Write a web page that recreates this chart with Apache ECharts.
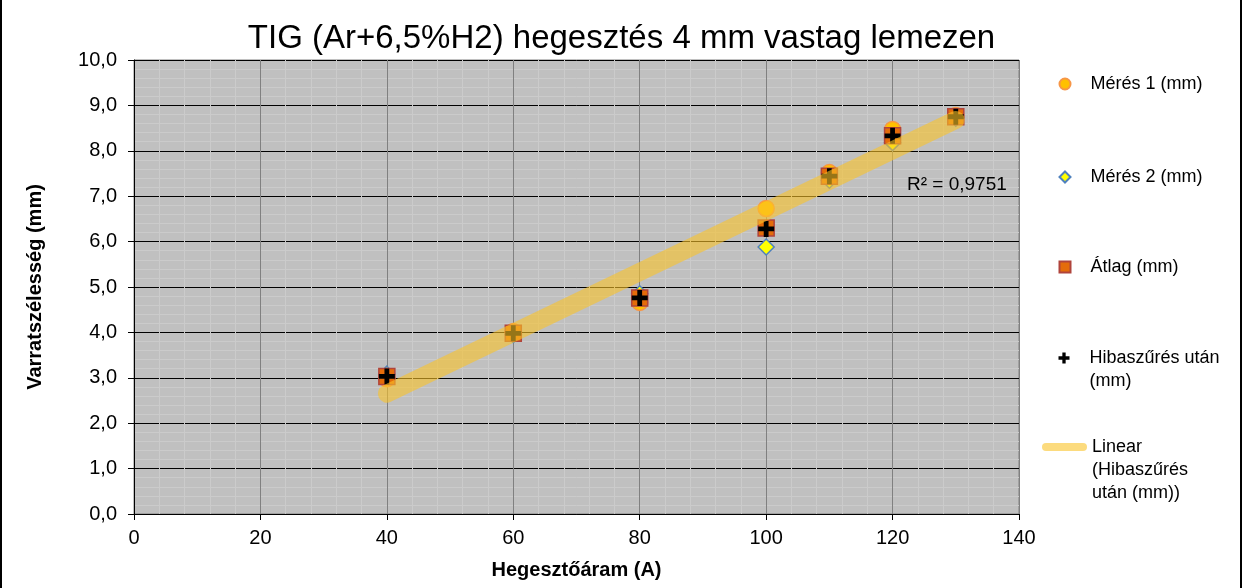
<!DOCTYPE html>
<html>
<head>
<meta charset="utf-8">
<script src="https://cdn.jsdelivr.net/npm/echarts@6/dist/echarts.min.js"></script>
<style>
  html, body { margin: 0; padding: 0; background: #fff; }
  #chart { width: 1243px; height: 588px; }
</style>
</head>
<body>
<div id="chart"></div>
<script>
// Hegesztőáram (A)
const aramok = [40, 60, 80, 100, 110, 120, 130];
// varratszélesség mérések (mm)
const meres1 = [2.98, 4.02, 4.66, 6.73, 7.52, 8.47, 8.78];
const meres2 = [3.08, 3.95, 4.85, 5.88, 7.35, 8.18, 8.72];
const atlag = [3.03, 3.98, 4.76, 6.30, 7.44, 8.33, 8.75];
const hibaszures = [3.03, 3.98, 4.76, 6.28, 7.44, 8.33, 8.75];
// lineáris trendvonal végpontjai
const trendX = [40, 130];
const trendY = [2.65, 8.68];
const r2Szoveg = 'R² = 0,9751';

const FONT = '"Liberation Sans", Arial, sans-serif';
const plusPath = 'path://M3.5,0H6.5V3.5H10V6.5H6.5V10H3.5V6.5H0V3.5H3.5Z';
const linePath = 'path://M4,0H41A4,4,0,0,1,41,8H4A4,4,0,0,1,4,0Z';

const pairs = arr => aramok.map((x, i) => [x, arr[i]]);

let chart = echarts.init(document.getElementById('chart'), null, { renderer: 'canvas' });

// egy legend blokk, egy elemmel; a többsoros szöveg első sora álljon a jel mellett
function legendItem(name, top, extraLines, gap, extra) {
    return Object.assign({
        data: [name],
        orient: 'vertical',
        left: 1058.5,
        top: top,
        padding: 0,
        itemWidth: 11,
        itemHeight: 11,
        selectedMode: false,
        formatter: n => '\n'.repeat(extraLines) + n.split('\n').map(s => '{t|' + s + '}').join('\n'),
        textStyle: {
            fontFamily: FONT, fontSize: 18, color: '#000', lineHeight: 23,
            rich: { t: { fontFamily: FONT, fontSize: 18, color: '#000', lineHeight: 23, padding: [0, 0, 0, gap] } }
        }
    }, extra || {});
}

let option = {
    animation: false,
    backgroundColor: '#fff',
    title: {
        text: 'TIG (Ar+6,5%H2) hegesztés 4 mm vastag lemezen',
        left: 'center',
        top: 17,
        textStyle: { fontFamily: FONT, fontSize: 33, fontWeight: 'normal', color: '#000' }
    },
    legend: [
        legendItem('Mérés 1 (mm)', 72.5, 0, 15),
        legendItem('Mérés 2 (mm)', 165.5, 0, 15),
        legendItem('Átlag (mm)', 255.5, 0, 15),
        legendItem('Hibaszűrés után\n(mm)', 323.5, 1, 15),
        legendItem('Linear\n(Hibaszűrés\nután (mm))', 389.5, 2, 0, {
            left: 1042,
            itemWidth: 45,
            itemHeight: 8,
            icon: linePath,
            itemStyle: { color: '#FCDB7E', borderWidth: 0 }
        })
    ],
    grid: {
        left: 134,
        right: 224,
        top: 60,
        bottom: 74,
        show: true,
        backgroundColor: '#C0C0C0',
        borderColor: '#808080',
        borderWidth: 1
    },
    xAxis: {
        type: 'value',
        min: 0,
        max: 140,
        interval: 20,
        name: 'Hegesztőáram (A)',
        nameLocation: 'middle',
        nameGap: 46,
        nameTextStyle: { fontFamily: FONT, fontSize: 20, fontWeight: 'bold', color: '#000' },
        axisLine: { show: true, lineStyle: { color: '#000', width: 1 } },
        axisTick: { show: true, length: 6, lineStyle: { color: '#000' } },
        axisLabel: { fontFamily: FONT, fontSize: 20, color: '#000', margin: 14 },
        splitLine: { show: true, lineStyle: { color: '#808080', width: 1 } },
        minorTick: { show: false, splitNumber: 5 },
        minorSplitLine: { show: true, lineStyle: { color: '#CBCBCB', width: 1 } }
    },
    yAxis: {
        type: 'value',
        min: 0,
        max: 10,
        interval: 1,
        name: 'Varratszélesség (mm)',
        nameLocation: 'middle',
        nameGap: 89,
        nameTextStyle: { fontFamily: FONT, fontSize: 20, fontWeight: 'bold', color: '#000' },
        axisLine: { show: true, lineStyle: { color: '#000', width: 1 } },
        axisTick: { show: true, length: 6, lineStyle: { color: '#000' } },
        axisLabel: {
            fontFamily: FONT, fontSize: 20, color: '#000', margin: 17,
            formatter: v => v.toFixed(1).replace('.', ',')
        },
        splitLine: { show: true, lineStyle: { color: '#000', width: 1 } },
        minorTick: { show: false, splitNumber: 5 },
        minorSplitLine: { show: true, lineStyle: { color: '#CBCBCB', width: 1 } }
    },
    series: [
        {
            name: 'Mérés 1 (mm)',
            type: 'scatter',
            symbol: 'circle',
            symbolSize: 16,
            itemStyle: { color: '#FFC000', borderColor: '#F79646', borderWidth: 1.5, opacity: 1 },
            data: pairs(meres1),
            z: 2
        },
        {
            name: 'Mérés 2 (mm)',
            type: 'scatter',
            symbol: 'diamond',
            symbolSize: 16,
            itemStyle: { color: '#FFFF00', borderColor: '#4F81BD', borderWidth: 1.5, opacity: 1 },
            data: pairs(meres2),
            z: 3
        },
        {
            name: 'Átlag (mm)',
            type: 'scatter',
            symbol: 'rect',
            symbolSize: 16,
            itemStyle: { color: '#E46C0A', borderColor: '#B0443C', borderWidth: 1.5, opacity: 1 },
            data: pairs(atlag),
            z: 4
        },
        {
            name: 'Hibaszűrés után\n(mm)',
            type: 'scatter',
            symbol: plusPath,
            symbolSize: 16,
            itemStyle: { color: '#000', opacity: 1 },
            data: pairs(hibaszures),
            z: 5
        },
        {
            name: 'Linear\n(Hibaszűrés\nután (mm))',
            type: 'line',
            showSymbol: false,
            symbol: 'none',
            data: trendX.map((x, i) => [x, trendY[i]]),
            lineStyle: { color: 'rgba(250,195,40,0.6)', width: 18, cap: 'round' },
            itemStyle: { color: '#FCDB7E' },
            silent: true,
            z: 6
        }
    ],
    graphic: [
        {
            type: 'text',
            left: 907,
            top: 175,
            style: { text: r2Szoveg, font: '19px ' + FONT, fill: '#000' },
            z: 10
        },
        { type: 'rect', left: 0, top: 0, shape: { width: 2, height: 588 }, style: { fill: '#000' } },
        { type: 'rect', left: 1240, top: 0, shape: { width: 2, height: 588 }, style: { fill: '#000' } }
    ]
};

chart.setOption(option);
</script>
</body>
</html>
